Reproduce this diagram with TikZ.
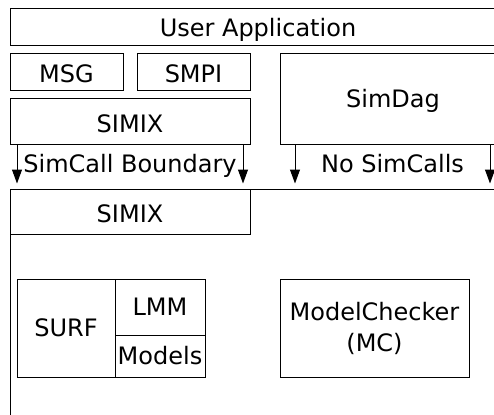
\documentclass[tikz,border=0pt]{standalone}
\usepackage{fontspec}
\setmainfont{DejaVu Sans}
\usetikzlibrary{arrows.meta}
\tikzset{
  box/.style={draw=black, line width=1pt, inner sep=0pt, outer sep=0pt,
    font=\fontsize{24}{31}\selectfont, text height=17.5pt, text depth=0pt},
  low/.style={text height=21pt},
  lbl/.style={inner sep=0pt, font=\fontsize{24}{31}\selectfont, text height=17.5pt, text depth=0pt},
  arr/.style={draw=black, line width=1pt, -{Triangle[length=14pt,width=10pt]}}
}
\begin{document}
\begin{tikzpicture}[x=1pt, y=-1pt]
\useasboundingbox (0,0) rectangle (494,414);
\clip (0,0) rectangle (494,414);
% top layer
\node[box, minimum width=496pt, minimum height=37pt] (user) at (258,27.5) {User Application};
\node[box, low, minimum width=113pt, minimum height=37pt] (msg) at (66.5,72.5) {MSG};
\node[box, low, minimum width=113pt, minimum height=37pt] (smpi) at (193.5,72.5) {SMPI};
\node[box, low, minimum width=240pt, minimum height=45pt] (simixtop) at (130,121.5) {SIMIX};
\node[box, minimum width=226pt, minimum height=90pt] (simdag) at (393,99) {SimDag};
% kernel region
\node[box, anchor=north west, minimum width=496pt, minimum height=400pt] (kernel) at (10,189) {};
\node[box, low, minimum width=240pt, minimum height=45pt] (simixbot) at (130,211.5) {SIMIX};
\node[box, minimum width=98pt, minimum height=98pt] (surf) at (66,328) {SURF};
\node[box, minimum width=90pt, minimum height=56pt] (lmm) at (160,307) {LMM};
\node[box, minimum width=90pt, minimum height=42pt] (models) at (160,356) {Models};
\node[draw=black, line width=1pt, inner sep=0pt, outer sep=0pt, align=center,
  font=\fontsize{24}{31}\selectfont, minimum width=189pt, minimum height=98pt] (mc) at (374.5,328) {ModelChecker\\(MC)};
% boundary labels and arrows
\node[lbl] (sc) at (130,163.5) {SimCall Boundary};
\node[lbl] (ns) at (392.5,163.5) {No SimCalls};
\coordinate (a1) at (17,183.5);
\coordinate (a2) at (243,183.5);
\coordinate (a3) at (295,183.5);
\coordinate (a4) at (490,183.5);
\draw[arr] (simixtop.south -| a1) -- (a1);
\draw[arr] (simixtop.south -| a2) -- (a2);
\draw[arr] (simdag.south -| a3) -- (a3);
\draw[arr] (simdag.south -| a4) -- (a4);
\end{tikzpicture}
\end{document}
